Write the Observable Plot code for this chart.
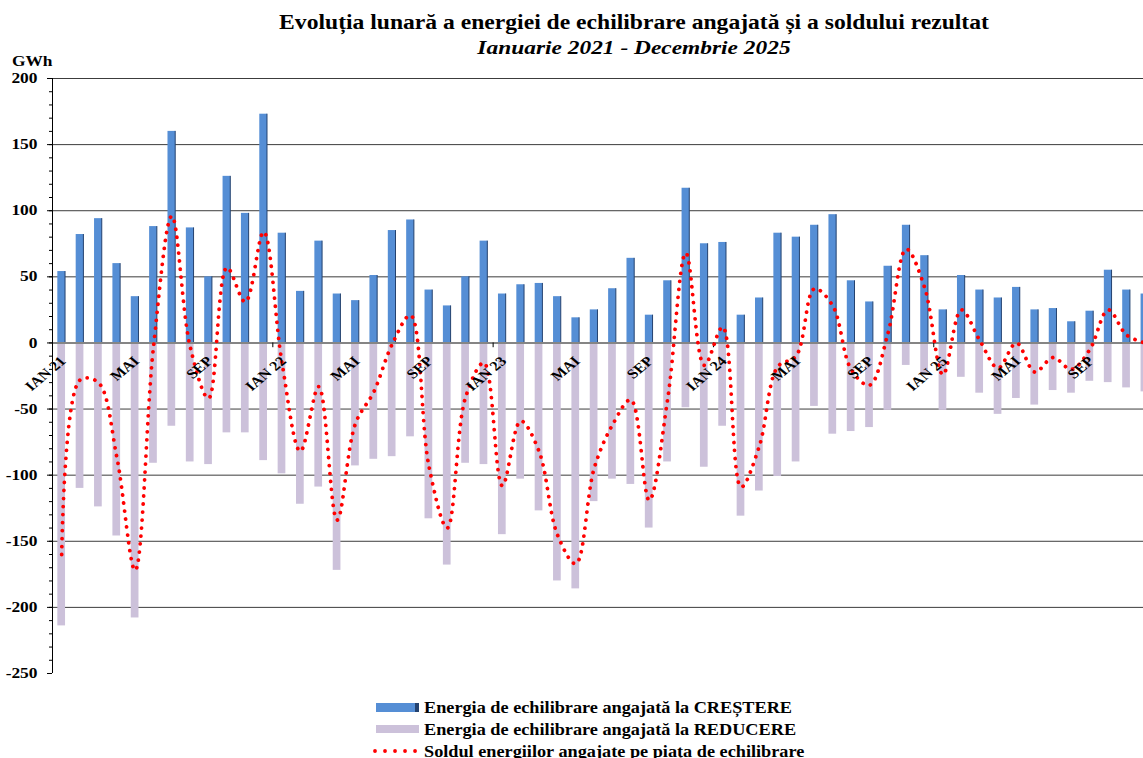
<!DOCTYPE html>
<html>
<head>
<meta charset="utf-8">
<script src="https://cdn.jsdelivr.net/npm/d3@7"></script>
<script src="https://cdn.jsdelivr.net/npm/@observablehq/plot@0.6"></script>
<style>
  html, body { margin: 0; padding: 0; background: #fff; overflow: hidden; }
  body { width: 1143px; height: 758px; position: relative; font-family: "Liberation Serif", "Times New Roman", serif; }
  #chart { position: absolute; left: 0; top: 0; }
  .t { position: absolute; white-space: nowrap; font-weight: bold; color: #000; z-index: 2; line-height: 1; }
  #title1 { left: 634px; transform: translateX(-50%) scaleX(1.18); top: 12px; font-size: 20px; }
  #title2 { left: 634px; transform: translateX(-50%) scaleX(1.2); top: 38px; font-size: 19.5px; font-style: italic; }
  #unit { left: 12px; top: 55px; font-size: 14px; transform: scaleX(1.24); transform-origin: 0 50%; }
  #legend { position: absolute; left: 373px; top: 697px; z-index: 2; }
  .row { position: relative; height: 21.8px; white-space: nowrap; font-weight: bold; font-size: 16px; line-height: 1; }
  .row span.lbl { position: absolute; left: 51px; top: 3px; transform: scaleX(1.14); transform-origin: 0 50%; }
  .sw { position: absolute; left: 3px; top: 6px; width: 39px; height: 8.5px; }
</style>
</head>
<body>
<div id="chart"></div>
<div class="t" id="title1">Evoluția lunară a energiei de echilibrare angajată și a soldului rezultat</div>
<div class="t" id="title2">Ianuarie 2021 - Decembrie 2025</div>
<div class="t" id="unit">GWh</div>
<div id="legend"></div>
<script>
// ---- Data (GWh), January 2021 .. December 2025 ----
const years = [2021, 2022, 2023, 2024, 2025];
const months = years.flatMap(y => d3.range(1, 13).map(m => `${y}-${String(m).padStart(2, "0")}`));

// Energy committed for upward regulation (CRESTERE)
const up = [
  54, 82, 94, 60, 35, 88, 160, 87, 50, 126, 98, 173,
  83, 39, 77, 37, 32, 51, 85, 93, 40, 28, 50, 77,
  37, 44, 45, 35, 19, 25, 41, 64, 21, 47, 117, 75,
  76, 21, 34, 83, 80, 89, 97, 47, 31, 58, 89, 66,
  25, 51, 40, 34, 42, 25, 26, 16, 24, 55, 40, 37
];
// Energy committed for downward regulation (REDUCERE)
const down = [
  -214, -110, -124, -146, -208, -91, -63, -90, -92, -68, -68, -89,
  -99, -122, -109, -172, -93, -88, -86, -71, -133, -168, -91, -92,
  -145, -103, -127, -180, -186, -120, -103, -107, -140, -90, -49, -94,
  -63, -131, -112, -101, -90, -48, -69, -67, -64, -51, -17, -24,
  -51, -26, -38, -54, -42, -47, -36, -38, -29, -30, -34, -37
];
// Balance (sold)
const balance = [
  -160, -28, -30, -86, -172, -3, 96, -3, -42, 57, 31, 84,
  -15, -82, -33, -134, -61, -37, -1, 21, -93, -140, -41, -15,
  -108, -59, -82, -145, -167, -95, -62, -43, -119, -43, 68, -17,
  12, -109, -78, -18, -10, 41, 28, -20, -32, 7, 71, 42,
  -24, 25, 2, -19, 0, -22, -11, -20, -5, 25, 6, 0
];

const tickMonths = ["2021-01","2021-05","2021-09","2022-01","2022-05","2022-09","2023-01","2023-05","2023-09","2024-01","2024-05","2024-09","2025-01","2025-05","2025-09"];
const tickLabels = ["IAN 21","MAI","SEP","IAN 22","MAI","SEP","IAN 23","MAI","SEP","IAN 24","MAI","SEP","IAN 25","MAI","SEP"];
const yearStarts = ["2022-01","2023-01","2024-01","2025-01"];
const yMajor = [200, 150, 100, 50, 0, -50, -100, -150, -200, -250];
const yGrid = [200, 150, 100, 50, -50, -100, -150, -200];
const yMinor = d3.range(-250, 201, 10);

const data = months.map((m, i) => ({month: m, up: up[i], down: down[i], balance: balance[i]}));

const step = 18.36;
const x0 = 52;
const padIn = 0.58;
const bw = step * (1 - padIn);

const chart = Plot.plot({
  width: 1160,
  height: 690,
  marginTop: 78,
  marginBottom: 17,
  marginLeft: x0,
  marginRight: 1160 - (x0 + step * months.length),
  style: {fontFamily: "Liberation Serif, Times New Roman, serif", fontSize: "14.5px", fontWeight: "bold", maxWidth: "none", background: "white", color: "black"},
  x: {type: "band", domain: months, range: [x0, x0 + step * months.length], paddingInner: padIn, paddingOuter: padIn / 2, round: false, axis: null},
  y: {domain: [-250, 200], label: null},
  marks: [
    Plot.ruleY(yGrid, {stroke: "#3c3c3c", strokeWidth: 1}),
    Plot.barY(data, {x: "month", y: "down", fill: "#ccc1da"}),
    Plot.barY(data, {x: "month", y: "up", fill: "#558ed5"}),
    Plot.ruleX(data, {x: "month", y1: 0, y2: "up", dx: bw / 2 - 0.5, stroke: "#24426f", strokeWidth: 1}),
    Plot.ruleY([0], {stroke: "#858585", strokeWidth: 2}),
    Plot.ruleX(yearStarts, {x: d => d, y1: 0, y2: -3.6, dx: -step / 2, stroke: "#000", strokeWidth: 1}),
    Plot.ruleX([months[0]], {x: d => d, y1: -250, y2: 200, dx: -step / 2, stroke: "#000", strokeWidth: 1}),
    Plot.axisY({ticks: yMinor, tickSize: 3, tickFormat: () => "", label: null}),
    Plot.axisY({ticks: yMajor, tickSize: 5, tickPadding: 10, tickFormat: d => String(d), label: null, fontSize: 14.5, fontWeight: "bold"}),
    Plot.line(data, {x: "month", y: "balance", curve: "catmull-rom", stroke: "#ff0000", strokeWidth: 3.8, strokeLinecap: "round", strokeDasharray: "0.01 8"}),
    Plot.text(tickMonths, {x: d => d, y: () => 0, text: (d, i) => tickLabels[i], rotate: -45, textAnchor: "end", dx: 1.5, dy: 16, fontSize: 13.5, fontWeight: "bold", fill: "black"})
  ]
});
document.getElementById("chart").appendChild(chart);

// The reference artwork is stretched horizontally; stretch the SVG texts the same way about their anchors.
function stretchTexts(root, k) {
  root.querySelectorAll("text").forEach(el => {
    const t = el.getAttribute("transform") || "";
    const m = t.match(/translate\(\s*([-\d.eE]+)/);
    let ax = m ? +m[1] : 0;
    if (!/rotate/.test(t)) ax += +(el.getAttribute("x") || 0);
    el.setAttribute("transform", `translate(${ax},0) scale(${k},1) translate(${-ax},0) ${t}`);
  });
}
stretchTexts(chart, 1.2);

// ---- Legend ----
const legendItems = [
  {label: "Energia de echilibrare angajată la CREȘTERE", type: "bar", color: "#558ed5"},
  {label: "Energia de echilibrare angajată la REDUCERE", type: "bar", color: "#ccc1da"},
  {label: "Soldul energiilor angajate pe piața de echilibrare", type: "dots", color: "#ff0000"}
];
const legend = document.getElementById("legend");
legendItems.forEach((it) => {
  const row = document.createElement("div");
  row.className = "row";
  if (it.type === "bar") {
    const sw = document.createElement("div");
    sw.className = "sw";
    sw.style.background = it.color;
    if (it.color === "#558ed5") sw.style.borderRight = "4px solid #24426f";
    else sw.style.width = "43px";
    row.appendChild(sw);
  } else {
    const ns = "http://www.w3.org/2000/svg";
    const svg = document.createElementNS(ns, "svg");
    svg.setAttribute("width", "48");
    svg.setAttribute("height", "12");
    svg.style.position = "absolute";
    svg.style.left = "0px";
    svg.style.top = "4px";
    const ln = document.createElementNS(ns, "line");
    ln.setAttribute("x1", "2"); ln.setAttribute("x2", "46");
    ln.setAttribute("y1", "6"); ln.setAttribute("y2", "6");
    ln.setAttribute("stroke", it.color);
    ln.setAttribute("stroke-width", "3.8");
    ln.setAttribute("stroke-linecap", "round");
    ln.setAttribute("stroke-dasharray", "0.01 10");
    svg.appendChild(ln);
    row.appendChild(svg);
  }
  const lbl = document.createElement("span");
  lbl.className = "lbl";
  lbl.textContent = it.label;
  row.appendChild(lbl);
  legend.appendChild(row);
});
</script>
</body>
</html>
